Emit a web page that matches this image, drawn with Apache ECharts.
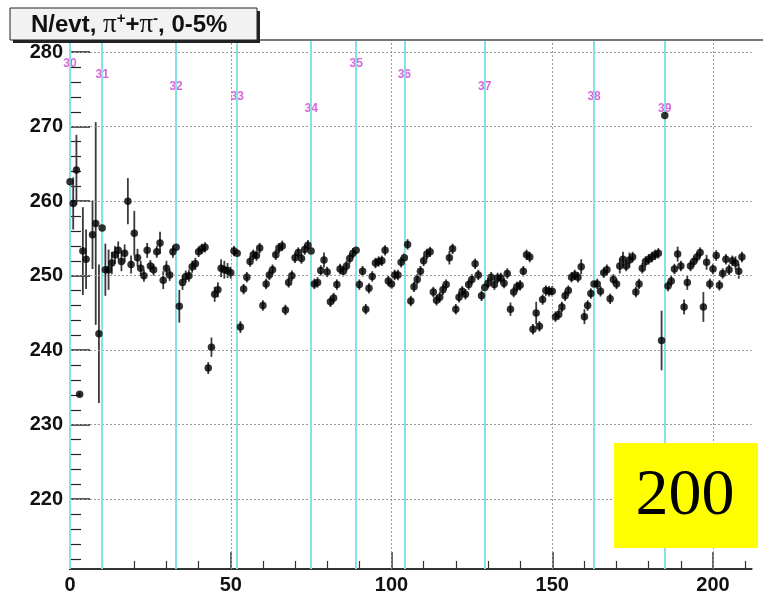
<!DOCTYPE html>
<html><head><meta charset="utf-8">
<script src="https://cdn.jsdelivr.net/npm/echarts@6/dist/echarts.min.js"></script>
<style>html,body{margin:0;padding:0;background:#fff}#c{width:763px;height:595px}</style>
</head><body><div id="c"></div>
<script>
// N/evt per bin (index = bin number), null = empty bin
const values = [
262.6,259.7,264.2,234.1,253.3,252.2,null,255.5,257.0,242.2,
256.4,250.8,250.8,251.7,252.8,253.4,251.9,253.0,260.0,251.5,
255.7,252.4,251.0,250.0,253.4,251.3,250.8,253.2,254.4,249.4,
251.0,250.1,253.2,253.8,245.9,249.1,249.9,250.0,251.2,251.6,
253.2,253.6,253.8,237.6,240.4,247.5,248.1,251.0,250.8,250.7,
250.4,253.3,253.0,243.1,248.2,249.8,251.9,252.8,252.7,253.7,
246.0,248.9,250.1,250.8,252.8,253.7,254.0,245.4,249.1,250.0,
252.4,253.1,252.3,253.5,254.1,253.3,248.9,249.1,250.7,252.1,
250.5,246.5,247.0,248.8,250.9,250.6,251.3,252.3,253.0,253.4,
248.8,250.6,245.5,248.3,249.9,251.7,251.9,252.0,253.4,249.3,
248.9,250.1,250.1,251.8,252.4,254.2,246.6,248.5,249.5,250.6,
252.0,252.9,253.2,247.8,246.7,247.1,248.1,248.8,252.4,253.6,
245.5,247.1,247.9,247.5,248.8,249.5,251.6,250.1,247.3,248.4,
249.0,249.8,248.8,249.7,249.7,249.0,250.3,245.5,247.8,248.5,
248.7,250.6,252.8,252.5,242.8,245.0,243.2,246.8,248.0,247.9,
247.9,244.5,244.8,245.8,247.3,248.0,249.8,250.1,249.8,251.2,
244.5,246.0,247.6,248.9,248.9,247.9,250.4,250.8,246.9,249.5,
248.9,251.3,252.2,251.3,252.1,252.5,247.8,248.9,251.0,251.9,
252.2,252.5,252.8,253.0,241.3,271.5,248.6,249.3,250.9,252.9,
251.3,245.8,249.1,251.3,251.9,252.5,253.1,245.8,251.8,248.9,
250.9,252.7,248.7,250.3,252.2,250.8,252.0,251.7,250.6,252.5
];
// half-length of the error bar of each bin
const errors = [
3.5,3.5,4.7,0.2,5.9,4.0,0,4.6,13.6,9.3,
2.7,3.5,2.7,1.5,1.2,1.2,1.3,1.2,3.1,1.2,
3.0,1.2,1.0,0.8,1.0,0.8,0.8,0.8,1.5,1.2,
1.0,0.8,0.8,0.8,2.2,1.0,0.8,0.8,0.8,0.8,
0.7,0.7,0.7,0.8,1.3,1.0,1.0,1.2,1.2,1.0,
0.8,0.7,0.7,0.8,0.7,0.7,0.7,0.7,0.7,0.7,
0.7,0.7,0.7,0.7,0.7,0.7,0.7,0.7,0.7,0.7,
0.7,0.7,0.7,0.7,0.7,0.7,0.7,0.7,0.7,1.0,
0.7,0.7,0.7,0.7,0.7,0.7,0.7,0.7,0.7,0.7,
0.7,0.7,0.7,0.7,0.7,0.7,0.7,0.7,0.7,0.7,
0.7,0.7,0.7,0.7,0.7,0.7,0.7,0.7,0.7,0.7,
0.7,0.7,0.7,0.7,0.7,0.7,0.7,0.7,0.9,0.7,
0.7,0.7,0.7,0.7,0.7,0.7,0.7,0.7,0.7,0.7,
0.7,0.7,0.7,0.7,0.7,0.7,0.7,0.9,0.7,0.7,
0.7,0.7,0.7,0.7,0.7,1.5,0.7,0.7,0.7,0.7,
0.7,0.7,0.7,0.7,0.7,0.7,0.7,0.7,0.7,1.0,
1.0,0.7,0.7,0.7,0.7,0.7,0.7,0.7,0.7,0.7,
0.7,1.0,1.0,0.7,1.0,0.7,0.7,0.7,0.7,0.7,
0.7,0.7,0.7,0.7,4.0,0,0.7,0.7,0.7,1.0,
0.7,1.0,1.0,0.7,0.7,0.7,0.7,2.0,1.0,0.7,
0.7,0.7,0.7,0.7,0.7,0.7,0.7,0.9,1.0,0.7
];
const runLabels = ['30','31','32','33','34','35','36','37','38','39'];
const runX = [0,10,33,52,75,89,104,129,163,185];
const runLabelY = [278.5,277.0,275.4,274.0,272.4,278.5,277.0,275.4,274.0,272.4];
const yTicks = [220,230,240,250,260,270,280];
const yMinor = [212,214,216,218,222,224,226,228,232,234,236,238,242,244,246,248,252,254,256,258,262,264,266,268,272,274,276,278];
const xTicks = [0,50,100,150,200];
const xMinor = [10,20,30,40,60,70,80,90,110,120,130,140,160,170,180,190,210];
const stampText = '200';

const Y_MIN = 210.63, Y_MAX = 281.5, X_MIN = 0, X_MAX = 212;

const pts = [], bars = [];
values.forEach((v, i) => { if (v !== null) { pts.push([i, v]); bars.push([i, v, errors[i]]); } });

const axisFont = {fontFamily: 'Liberation Sans', fontWeight: 'bold', fontSize: 20, color: '#111'};

const chart = echarts.init(document.getElementById('c'), null, {renderer: 'canvas'});
chart.setOption({
  animation: false,
  backgroundColor: '#fff',
  grid: {left: 70, top: 41, right: 11.4, bottom: 25, containLabel: false},
  xAxis: [
    {type: 'value', min: X_MIN, max: X_MAX,
     axisLine: {show: true, onZero: false, lineStyle: {color: '#333', width: 2}},
     axisTick: {show: true, inside: true, length: 17, customValues: xTicks, lineStyle: {color: '#333', width: 1.5}},
     axisLabel: Object.assign({customValues: xTicks, margin: 6}, axisFont),
     splitLine: {show: false}},
    {type: 'value', min: X_MIN, max: X_MAX, position: 'bottom', offset: 0,
     axisLine: {show: false},
     axisTick: {show: true, inside: true, length: 8, customValues: xMinor, lineStyle: {color: '#333', width: 1.2}},
     axisLabel: {show: false}, splitLine: {show: false}}
  ],
  yAxis: [
    {type: 'value', min: Y_MIN, max: Y_MAX,
     axisLine: {show: true, onZero: false, lineStyle: {color: '#222', width: 2}},
     axisTick: {show: true, inside: true, length: 20, customValues: yTicks, lineStyle: {color: '#222', width: 1.5}},
     axisLabel: Object.assign({customValues: yTicks, margin: 7}, axisFont),
     splitLine: {show: false}},
    {type: 'value', min: Y_MIN, max: Y_MAX, position: 'left', offset: 0,
     axisLine: {show: false},
     axisTick: {show: true, inside: true, length: 11, customValues: yMinor, lineStyle: {color: '#222', width: 1.2}},
     axisLabel: {show: false}, splitLine: {show: false}}
  ],
  series: [
    {type: 'scatter', data: [], z: 1, silent: true,
     markLine: {silent: true, symbol: 'none', label: {show: false}, animation: false,
       lineStyle: {type: [2, 2], color: '#999', width: 1},
       data: yTicks.map(v => ({yAxis: v})).concat(xTicks.filter(v => v > 0).map(v => ({xAxis: v})))}},
    {type: 'scatter', data: [], z: 2, silent: true,
     markLine: {silent: true, symbol: 'none', label: {show: false}, animation: false,
       lineStyle: {type: 'solid', color: '#86e2e6', width: 2},
       data: runX.map(v => ({xAxis: v}))}},
    {type: 'scatter', z: 3, silent: true, symbolSize: 1,
     itemStyle: {color: 'rgba(0,0,0,0)'},
     data: runX.map((x, i) => [x, runLabelY[i], runLabels[i]]),
     label: {show: true, position: 'inside', formatter: p => p.data[2],
       color: '#cf3fcf', fontSize: 12, fontWeight: 'bold', fontFamily: 'Liberation Sans'}},
    {type: 'custom', z: 4, silent: true, data: bars, encode: {x: 0, y: 1},
     renderItem: (params, api) => {
       const x = api.value(0), y = api.value(1), e = api.value(2);
       const p1 = api.coord([x, y - e]), p2 = api.coord([x, y + e]);
       return {type: 'line', shape: {x1: p1[0], y1: p1[1], x2: p2[0], y2: p2[1]},
               style: {stroke: '#3a3a3a', lineWidth: 1.8}};
     }},
    {type: 'scatter', z: 5, silent: true, data: pts, symbol: 'circle', symbolSize: 7.5,
     itemStyle: {color: '#000'}}
  ],
  graphic: [
    {type: 'line', z: 50, shape: {x1: 70, y1: 40, x2: 763, y2: 40}, style: {stroke: '#777', lineWidth: 2}},
    {type: 'rect', z: 100, shape: {x: 13, y: 11, width: 247, height: 32}, style: {fill: '#222'}},
    {type: 'rect', z: 101, shape: {x: 10, y: 8, width: 247, height: 32}, style: {fill: '#f2f2f2', stroke: '#222', lineWidth: 1}},
    {type: 'text', z: 102, x: 31, y: 25,
     style: {
       text: '{a|N/evt, }{p|π}{s|+}{a|+}{p|π}{s|-}{a|, 0-5%}',
       verticalAlign: 'middle', align: 'left',
       rich: {
         a: {fontSize: 24, fontWeight: 'bold', fontFamily: 'Liberation Sans', fill: '#111'},
         p: {fontSize: 27, fontFamily: 'Liberation Serif', fill: '#111'},
         s: {fontSize: 15, fontWeight: 'bold', fontFamily: 'Liberation Sans', fill: '#111', verticalAlign: 'top'}
       }
     }},
    {type: 'rect', z: 100, shape: {x: 614, y: 443, width: 144, height: 105}, style: {fill: '#ffff00'}},
    {type: 'text', z: 101, x: 685, y: 497,
     style: {text: stampText, align: 'center', verticalAlign: 'middle', fontSize: 66, fontFamily: 'Liberation Serif', fill: '#000'}}
  ]
});
</script>
</body></html>
